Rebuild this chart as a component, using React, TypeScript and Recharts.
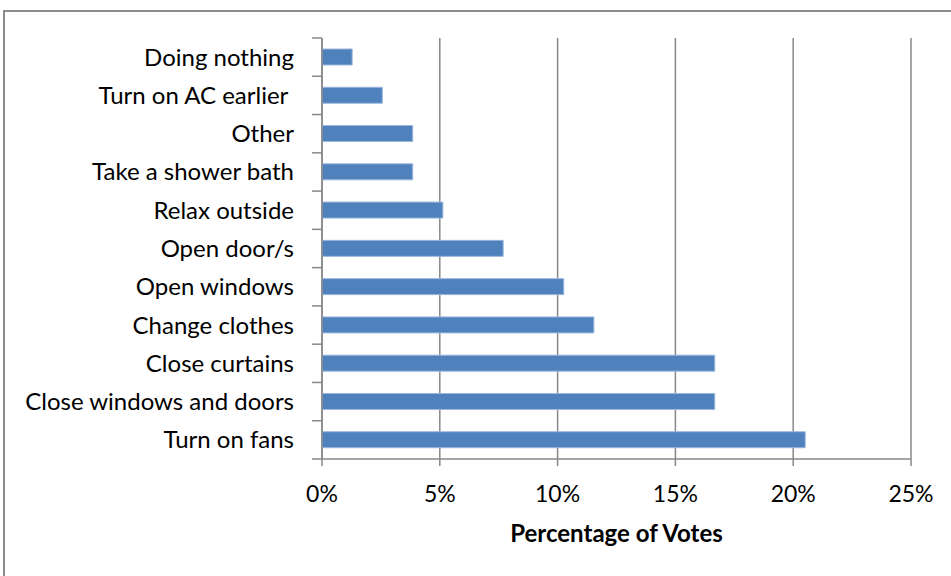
import React from "react";
import { Bar, BarChart, CartesianGrid, XAxis, YAxis } from "recharts";

const categories = [
  "Doing nothing",
  "Turn on AC earlier\u00a0",
  "Other",
  "Take a shower bath",
  "Relax outside",
  "Open door/s",
  "Open windows",
  "Change clothes",
  "Close curtains",
  "Close windows and doors",
  "Turn on fans",
];

const votes = [1.28, 2.56, 3.85, 3.85, 5.13, 7.69, 10.26, 11.54, 16.67, 16.67, 20.51];

const xTicks = [0, 5, 10, 15, 20, 25];

const data = categories.map((name, i) => ({ name, votes: votes[i] }));

const FONT = "Lato, 'Open Sans', sans-serif";
const GRID = "#888888";

// category label plus Excel-style tick marks on the band edges
function CategoryTick(props: any) {
  const { x, y, payload, index } = props;
  const half = payload?.offset ?? 19.1;
  const axisX = x + 28;
  return (
    <g>
      {index === 0 && <line x1={axisX - 10} x2={axisX} y1={y - half} y2={y - half} stroke={GRID} strokeWidth={1.5} />}
      <line x1={axisX - 10} x2={axisX} y1={y + half} y2={y + half} stroke={GRID} strokeWidth={1.5} />
      <text x={x} y={y} dy="0.355em" textAnchor="end" fill="#000" fontSize={24} fontFamily={FONT}>
        {payload.value}
      </text>
    </g>
  );
}

export default function App() {
  return (
    <div style={{ position: "absolute", left: 0, top: 0, width: 951, height: 576, overflow: "hidden", background: "#fff" }}>
      <div
        style={{
          position: "absolute",
          left: 3,
          top: 10,
          width: 1000,
          height: 700,
          border: "2px solid #8c8c8c",
          boxSizing: "border-box",
        }}
      />
      <div style={{ position: "absolute", left: 0, top: 0 }}>
        <BarChart
          width={951}
          height={576}
          data={data}
          layout="vertical"
          margin={{ top: 38, right: 40, left: 0, bottom: 34 }}
          style={{ fontFamily: FONT }}
        >
          <CartesianGrid horizontal={false} stroke={GRID} strokeWidth={1.5} />
          <XAxis
            type="number"
            domain={[0, 25]}
            ticks={xTicks}
            interval={0}
            tickFormatter={(v) => `${v}%`}
            stroke={GRID}
            strokeWidth={1.5}
            tickSize={7}
            tickMargin={20}
            height={83}
            tick={{ fill: "#000", fontSize: 23 }}
            label={{
              value: "Percentage of Votes",
              position: "insideBottom",
              offset: 0,
              fill: "#000",
              fontSize: 24,
              fontWeight: 700,
            }}
          />
          <YAxis
            type="category"
            dataKey="name"
            width={322}
            interval={0}
            tickLine={false}
            tickSize={0}
            tickMargin={28}
            stroke={GRID}
            strokeWidth={1.5}
            tick={CategoryTick}
          />
          <Bar
            dataKey="votes"
            fill="#4f81bd"
            stroke="#9bb7dd"
            strokeWidth={1}
            barSize={16}
            isAnimationActive={false}
          />
        </BarChart>
      </div>
    </div>
  );
}
